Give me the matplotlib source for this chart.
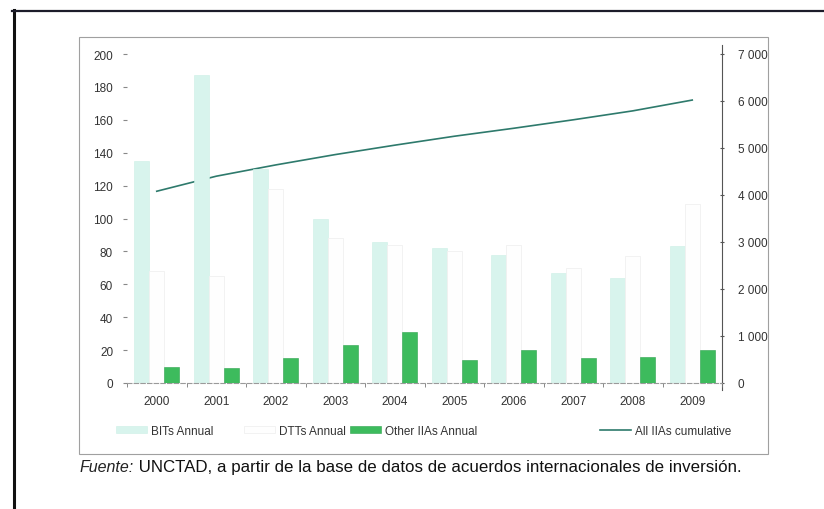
import matplotlib
matplotlib.use("Agg")
import matplotlib.pyplot as plt
import numpy as np
from matplotlib.lines import Line2D
from matplotlib.patches import Rectangle, Patch

plt.rcParams['font.family'] = ['Liberation Sans', 'DejaVu Sans']

years = ["2000", "2001", "2002", "2003", "2004", "2005", "2006", "2007", "2008", "2009"]
bits_annual = [135, 187, 130, 100, 86, 82, 78, 67, 64, 83]
dtts_annual = [68, 65, 118, 88, 84, 80, 84, 70, 77, 109]
other_iias_annual = [10, 9, 15, 23, 31, 14, 20, 15, 16, 20]
all_iias_cumulative = [4080, 4400, 4640, 4860, 5060, 5250, 5420, 5600, 5790, 6020]

left_ticks = list(range(0, 201, 20))
right_ticks = list(range(0, 7001, 1000))
right_tick_labels = ["0", "1 000", "2 000", "3 000", "4 000", "5 000", "6 000", "7 000"]
series_labels = ["BITs Annual", "DTTs Annual", "Other IIAs Annual", "All IIAs cumulative"]

BIT_C, BIT_E = "#d8f4ed", "#cbefe6"
DTT_C, DTT_E = "#fefefe", "#f0f0f0"
OTH_C, OTH_E = "#3dbb5d", "#2fa34f"
CUM_C = "#2e7a6c"

W, H = 824, 510
fig = plt.figure(figsize=(W / 100, H / 100), dpi=100)
fig.patch.set_facecolor("white")

def fx(px):
    return px / W

def fy(py):
    return 1 - py / H

ax = fig.add_axes([fx(127), fy(384), fx(722) - fx(127), fy(55) - fy(384)])
ax2 = ax.twinx()
ax.set_zorder(ax2.get_zorder() + 1)
ax.patch.set_visible(False)

x = np.arange(len(years))
bw = 0.252
ax.bar(x - bw, bits_annual, width=bw, color=BIT_C, edgecolor=BIT_E, linewidth=0.4, zorder=2)
ax.bar(x, dtts_annual, width=bw, color=DTT_C, edgecolor=DTT_E, linewidth=0.6, zorder=2)
ax.bar(x + bw, other_iias_annual, width=bw, color=OTH_C, edgecolor=OTH_E, linewidth=0.4, zorder=3)

ax2.plot(x, all_iias_cumulative, color=CUM_C, linewidth=1.2, zorder=4)

ax.set_xlim(-0.5, len(years) - 0.5)
ax.set_ylim(0, 200)
ax2.set_ylim(0, 7000)

label_kw = dict(fontsize=8.5, color="#333333")
ax.set_yticks(left_ticks)
ax.set_yticklabels([str(v) for v in left_ticks], **label_kw)
ax2.set_yticks(right_ticks)
ax2.set_yticklabels(right_tick_labels, **label_kw)

ax.set_xticks(x)
ax.set_xticklabels(years, **label_kw)
ax.set_xticks(np.arange(-0.5, len(years), 1.0), minor=True)
ax.tick_params(axis="x", which="major", length=0, pad=9)
ax.tick_params(axis="x", which="minor", length=3, color="#777777", direction="out")
ax.tick_params(axis="y", length=3, color="#888888", pad=7)
ax2.tick_params(axis="y", length=3, color="#555555", direction="inout", pad=10)

for a in (ax, ax2):
    for s in ("top", "left", "right", "bottom"):
        a.spines[s].set_visible(False)
ax2.spines["right"].set_visible(True)
ax2.spines["right"].set_color("#555555")
ax2.spines["right"].set_linewidth(0.8)
ax2.spines["right"].set_bounds(-150, 7200)
ax.spines["bottom"].set_visible(True)
ax.spines["bottom"].set_color("#9a9a9a")
ax.spines["bottom"].set_linewidth(0.8)
ax.spines["bottom"].set_linestyle((0, (4, 2)))

# legend entries along the bottom of the chart box, one per series
handles = [
    Patch(facecolor=BIT_C, edgecolor=BIT_E, linewidth=0.4),
    Patch(facecolor=DTT_C, edgecolor=DTT_E, linewidth=0.6),
    Patch(facecolor=OTH_C, edgecolor=OTH_E, linewidth=0.4),
    Line2D([0], [0], color=CUM_C, linewidth=1.2),
]
entry_left = [116, 244, 350, 600]
for h, lab, left in zip(handles, series_labels, entry_left):
    fig.legend([h], [lab], loc="center left", bbox_to_anchor=(fx(left), fy(432)),
               frameon=False, fontsize=8.5, labelcolor="#333333", handlelength=2.6,
               handleheight=0.5, handletextpad=0.35, borderpad=0, borderaxespad=0)

# chart box and page frame
fig.add_artist(Rectangle((fx(79), fy(455)), fx(768) - fx(79), fy(38) - fy(455),
                         transform=fig.transFigure, fill=False, edgecolor="#a0a0a0", linewidth=0.8))
fig.add_artist(Line2D([fx(13.5), fx(13.5)], [0, fy(11)], transform=fig.transFigure,
                      color="#111111", linewidth=2.2))
fig.add_artist(Line2D([fx(12), 1], [fy(11.5), fy(11.5)], transform=fig.transFigure,
                      color="#1c1c2a", linewidth=1.6))

# source note
t1 = fig.text(fx(80), fy(468), "Fuente:", fontsize=11.5, style="italic", color="#222222", va="center")
ax.annotate(" UNCTAD, a partir de la base de datos de acuerdos internacionales de inversión.",
            xy=(1, 0.5), xycoords=t1, va="center", ha="left", fontsize=12.2, color="#111111",
            annotation_clip=False)

fig.savefig("out.png", dpi=100)
